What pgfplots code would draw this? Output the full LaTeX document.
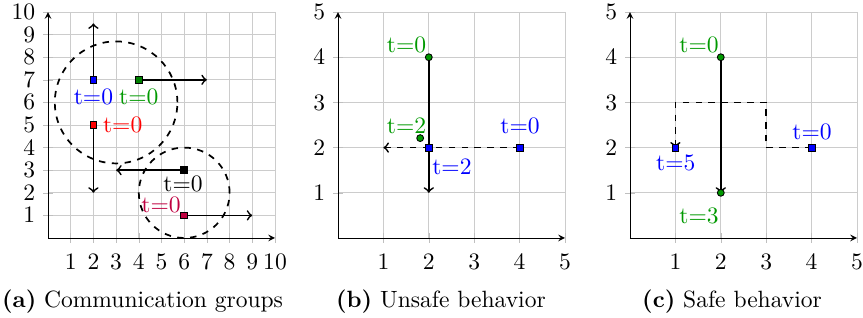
\documentclass[border=0pt]{standalone}
\usepackage{pgfplots}
\pgfplotsset{compat=1.18}
\definecolor{mygreen}{rgb}{0,0.6,0}
\definecolor{sqgreen}{rgb}{0,0.5,0}
\pgfplotsset{
  panel/.style={
    scale only axis, width=105.58pt, height=105.1pt,
    anchor=south west,
    axis lines=left, grid=major, grid style={black!20},
    xmin=0, ymin=0, clip=false,
    tick style={black!25},
    xticklabel style={yshift=-1.5pt},
  },
  arr/.style={->, thick, black},
  darr/.style={->, thick, black, dashed},
  sq/.style={only marks, mark=square*, mark size=1.6pt, mark options={solid, thin, draw=black, fill=#1}},
  dot/.style={only marks, mark=*, mark size=1.6pt, mark options={solid, thin, draw=black, fill=#1}},
}
\tikzset{lab/.style={text=#1, inner sep=0pt}}
\begin{document}
\fontsize{10.95}{13.6}\selectfont
\begin{tikzpicture}
\useasboundingbox (0,0) rectangle (401.4pt,147.9pt);
% (a)
\begin{axis}[panel, at={(22.33pt,37.21pt)}, xmax=10, ymax=10,
  xtick={1,...,10}, ytick={1,...,10}]
\draw[dashed, thick] (axis cs:3,6) circle[radius=2.7];
\draw[dashed, thick] (axis cs:6,2) circle[radius=2];
\addplot[arr] coordinates {(2,7) (2,9.5)};
\addplot[arr] coordinates {(4,7) (7,7)};
\addplot[arr] coordinates {(2,5) (2,2)};
\addplot[arr] coordinates {(6,3) (3,3)};
\addplot[arr] coordinates {(6,1) (9,1)};
\addplot[sq=blue] coordinates {(2,7)};
\addplot[sq=sqgreen] coordinates {(4,7)};
\addplot[sq=red] coordinates {(2,5)};
\addplot[sq=black] coordinates {(6,3)};
\addplot[sq=purple] coordinates {(6,1)};
\node[lab=blue] at (axis cs:2.0,6.24) {t=0};
\node[lab=mygreen] at (axis cs:4.0,6.24) {t=0};
\node[lab=red] at (axis cs:3.29,5.0) {t=0};
\node[lab=black] at (axis cs:5.95,2.39) {t=0};
\node[lab=purple] at (axis cs:4.98,1.46) {t=0};
\end{axis}
% (b)
\begin{axis}[panel, at={(157.21pt,37.21pt)}, xmax=5, ymax=5,
  xtick={1,...,5}, ytick={1,...,5}]
\addplot[arr] coordinates {(2,4) (2,1)};
\addplot[darr] coordinates {(4,2) (1,2)};
\addplot[dot=mygreen] coordinates {(2,4) (1.81,2.21)};
\addplot[sq=blue] coordinates {(4,2) (2,2)};
\node[lab=mygreen] at (axis cs:1.51,4.28) {t=0};
\node[lab=mygreen] at (axis cs:1.51,2.49) {t=2};
\node[lab=blue] at (axis cs:4.01,2.47) {t=0};
\node[lab=blue] at (axis cs:2.51,1.57) {t=2};
\end{axis}
% (c)
\begin{axis}[panel, at={(293.02pt,37.21pt)}, xmax=5, ymax=5,
  xtick={1,...,5}, ytick={1,...,5}]
\addplot[darr] coordinates {(4,2) (3,2) (3,3) (1,3) (1,2)};
\addplot[arr] coordinates {(2,4) (2,1)};
\addplot[dot=mygreen] coordinates {(2,4) (2,1)};
\addplot[sq=blue] coordinates {(4,2) (1,2)};
\node[lab=mygreen] at (axis cs:1.52,4.28) {t=0};
\node[lab=mygreen] at (axis cs:1.52,0.49) {t=3};
\node[lab=blue] at (axis cs:4.01,2.35) {t=0};
\node[lab=blue] at (axis cs:1.01,1.66) {t=5};
\end{axis}
\node[anchor=base] at (66.3pt,4.65pt) {\textbf{(a)} Communication groups};
\node[anchor=base] at (205.1pt,4.65pt) {\textbf{(b)} Unsafe behavior};
\node[anchor=base] at (340.5pt,4.65pt) {\textbf{(c)} Safe behavior};
\end{tikzpicture}
\end{document}
